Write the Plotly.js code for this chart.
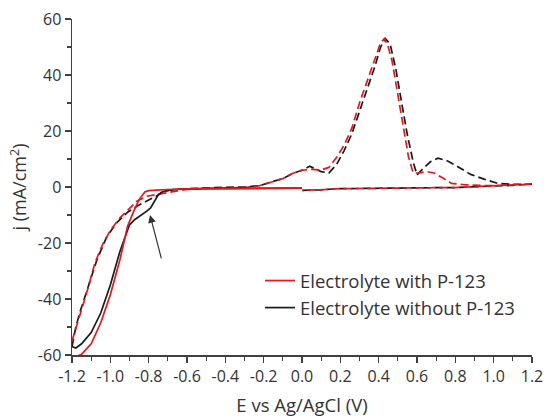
<!DOCTYPE html>
<html>
<head>
<meta charset="utf-8">
<script src="https://cdn.plot.ly/plotly-3.0.1.min.js"></script>
<style>html,body{margin:0;padding:0;background:#fff;}#chart{width:544px;height:417px;}</style>
</head>
<body>
<div id="chart"></div>
<script>
// ---- Data ----
const seriesNames = ["Electrolyte with P-123", "Electrolyte without P-123"];

// Solid curves (cathodic sweep, 0 V -> -1.2 V)
const redSolidX = [0.0, -0.1, -0.2, -0.3, -0.4, -0.5, -0.6, -0.65, -0.7, -0.76, -0.8, -0.82, -0.85, -0.88, -0.91, -0.95, -1.0, -1.05, -1.1, -1.15, -1.18, -1.2];
const redSolidY = [-0.4, -0.4, -0.5, -0.5, -0.6, -0.6, -0.7, -0.7, -0.9, -1.1, -1.3, -1.8, -4.5, -9, -14, -26, -38.5, -48.5, -56, -59.8, -60.5, -60.3];

const blackSolidX = [0.0, -0.1, -0.2, -0.3, -0.4, -0.5, -0.6, -0.65, -0.7, -0.73, -0.75, -0.77, -0.79, -0.81, -0.84, -0.87, -0.9, -0.95, -1.0, -1.05, -1.1, -1.15, -1.18, -1.2];
const blackSolidY = [-0.4, -0.4, -0.5, -0.5, -0.6, -0.6, -0.7, -0.8, -1.2, -1.8, -2.8, -5, -7.5, -8.6, -10, -11.5, -13.5, -23, -35, -45, -52, -56, -57.5, -57];

// Dashed curves (full scan -1.2 V -> 1.2 V -> 0 V)
const redDashX = [-1.2, -1.18, -1.16, -1.12, -1.08, -1.04, -1.0, -0.95, -0.9, -0.86, -0.81, -0.76, -0.7, -0.65, -0.6, -0.5, -0.4, -0.3, -0.22, -0.15, -0.1, -0.05, 0.0, 0.05, 0.1, 0.14, 0.18, 0.22, 0.26, 0.3, 0.34, 0.38, 0.41, 0.43, 0.45, 0.47, 0.5, 0.53, 0.555, 0.58, 0.61, 0.65, 0.69, 0.74, 0.78, 0.85, 0.95, 1.05, 1.15, 1.2,
  1.1, 1.0, 0.9, 0.8, 0.6, 0.4, 0.2, 0.1, 0.05, 0.0];
const redDashY = [-55, -50, -46, -37, -27, -20.5, -15.5, -11, -7.5, -5, -3.3, -2.6, -2, -1.4, -0.9, -0.5, -0.3, -0.2, 0.5, 2, 3, 4.8, 6, 6.3, 6.1, 7, 10.5, 15, 21, 30, 38, 46, 51.5, 53, 50, 45, 33, 20, 11, 5, 5, 5.5, 5, 3, 1.3, 0.8, 0.5, 0.6, 0.9, 1.1,
  0.6, 0.3, 0, -0.2, -0.3, -0.4, -0.6, -1.0, -1.2, -1.2];

const blackDashX = [-1.2, -1.18, -1.16, -1.11, -1.07, -1.02, -0.97, -0.91, -0.86, -0.81, -0.76, -0.72, -0.67, -0.6, -0.5, -0.4, -0.3, -0.22, -0.15, -0.1, -0.05, 0.0, 0.04, 0.07, 0.1, 0.14, 0.18, 0.22, 0.26, 0.3, 0.34, 0.38, 0.41, 0.435, 0.46, 0.49, 0.52, 0.55, 0.58, 0.6, 0.63, 0.67, 0.71, 0.76, 0.82, 0.88, 0.95, 1.02, 1.1, 1.2,
  1.1, 1.0, 0.9, 0.8, 0.6, 0.4, 0.2, 0.1, 0.05, 0.0];
const blackDashY = [-57, -50, -45, -34, -26, -18, -13, -9, -6.8, -5, -3.3, -1.5, -0.9, -0.6, -0.3, -0.1, 0, 0.5, 2, 3, 4.8, 6, 7.4, 6.5, 5.5, 5, 8, 13, 19, 27, 35, 43, 50, 53, 51, 42, 30, 18.5, 9, 4.3, 6.5, 9, 10.3, 9.3, 7, 4.5, 2.8, 1.3, 0.9, 1,
  0.6, 0.3, 0, -0.2, -0.3, -0.4, -0.6, -1.0, -1.2, -1.2];

// Tick labels
const xTickVals = [-1.2, -1.0, -0.8, -0.6, -0.4, -0.2, 0.0, 0.2, 0.4, 0.6, 0.8, 1.0, 1.2];
const xTickText = ["-1.2", "-1.0", "-0.8", "-0.6", "-0.4", "-0.2", "0.0", "0.2", "0.4", "0.6", "0.8", "1.0", "1.2"];
const yTickVals = [-60, -40, -20, 0, 20, 40, 60];
const yTickText = ["-60", "-40", "-20", "0", "20", "40", "60"];

// Arrow annotation (head and tail, data coordinates)
const arrowHead = [-0.793, -10];
const arrowTail = [-0.732, -26];

// ---- Styles ----
const RED = "#e8161b";
const BLACK = "#1a1a1a";
const FONT = "Open Sans, sans-serif";

const traces = [
  {x: blackDashX, y: blackDashY, mode: "lines", line: {color: BLACK, width: 1.7, dash: "8px,4px"}, showlegend: false, hoverinfo: "skip"},
  {x: redDashX, y: redDashY, mode: "lines", line: {color: RED, width: 1.7, dash: "8px,4px"}, showlegend: false, hoverinfo: "skip"},
  {x: blackSolidX, y: blackSolidY, mode: "lines", name: seriesNames[1], legendrank: 2, line: {color: BLACK, width: 1.7}},
  {x: redSolidX, y: redSolidY, mode: "lines", name: seriesNames[0], legendrank: 1, line: {color: RED, width: 1.7}}
];

const axisCommon = {
  showgrid: false, zeroline: false, showline: true, linecolor: "#404040", linewidth: 1.5,
  ticks: "outside", ticklen: 6, tickwidth: 1.5, tickcolor: "#404040",
  tickfont: {family: FONT, size: 16, color: "#333"},
  mirror: false
};

const layout = {
  width: 544, height: 417,
  margin: {l: 72, r: 12, t: 19, b: 62},
  paper_bgcolor: "#fff", plot_bgcolor: "#fff",
  font: {family: FONT, color: "#333"},
  xaxis: Object.assign({}, axisCommon, {
    range: [-1.2, 1.2], tickmode: "array", tickvals: xTickVals, ticktext: xTickText,
    minor: {dtick: 0.1, ticklen: 4, tickwidth: 1.2, tickcolor: "#404040", ticks: "outside", showgrid: false},
    title: {text: "E vs Ag/AgCl (V)", font: {family: FONT, size: 18.5, color: "#333"}, standoff: 15}
  }),
  yaxis: Object.assign({}, axisCommon, {
    range: [-60, 60], tickmode: "array", tickvals: yTickVals, ticktext: yTickText,
    minor: {dtick: 10, ticklen: 4, tickwidth: 1.2, tickcolor: "#404040", ticks: "outside", showgrid: false},
    title: {text: "j (mA/cm<sup>2</sup>)", font: {family: FONT, size: 18, color: "#333"}, standoff: 6}
  }),
  legend: {
    x: 0.4087, y: 0.18, xanchor: "left", yanchor: "middle",
    bgcolor: "rgba(0,0,0,0)", borderwidth: 0,
    font: {family: FONT, size: 18.5, color: "#333"},
    itemwidth: 30, tracegroupgap: 0
  },
  annotations: [{
    x: arrowHead[0], y: arrowHead[1], xref: "x", yref: "y",
    ax: arrowTail[0], ay: arrowTail[1], axref: "x", ayref: "y",
    showarrow: true, arrowhead: 2, arrowsize: 1.3, arrowwidth: 1.2, arrowcolor: "#333", text: ""
  }],
  showlegend: true
};

Plotly.newPlot("chart", traces, layout, {displayModeBar: false, staticPlot: true});
</script>
</body>
</html>
